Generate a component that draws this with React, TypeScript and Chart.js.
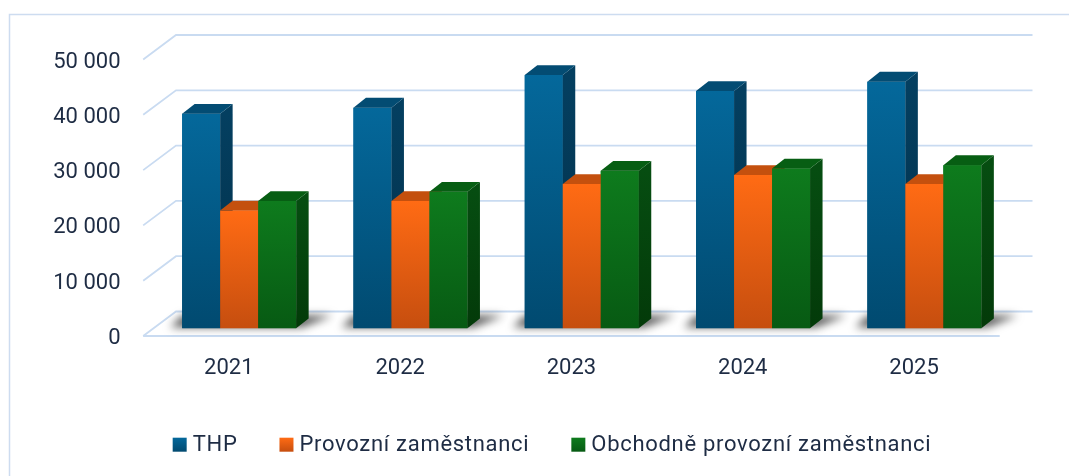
import React, { useEffect, useRef } from 'react';
import { Chart, registerables } from 'chart.js';

Chart.register(...registerables);

// ---- data ----
const CATEGORIES = ['2021', '2022', '2023', '2024', '2025'];
const SERIES_LABELS = ['THP', 'Provozní zaměstnanci', 'Obchodně provozní zaměstnanci'];
const THP = [38800, 39900, 45800, 42900, 44600];
const PROVOZNI = [21300, 23000, 26100, 27700, 26100];
const OBCHODNE = [23000, 24700, 28500, 28900, 29500];
const Y_MIN = 0;
const Y_MAX = 50000;
const Y_STEP = 10000;

// ---- styles ----
const PALETTE = [
  { front: ['#04689b', '#014a70'], side: ['#043f60', '#02304a'], top: '#034c73' },
  { front: ['#ff6b14', '#c64e0f'], side: ['#a8410b', '#8a3508'], top: '#c4500e' },
  { front: ['#0e7b1d', '#075a13'], side: ['#064d11', '#033a09'], top: '#075e13' },
];
const TEXT_COLOR = '#1e2c44';
const GRID_COLOR = '#c9dbf1';
const FONT_FAMILY = 'Roboto';
const FONT_SIZE = 22;

// 3D geometry (pixels)
const DEPTH = { dx: 12.5, dy: -9.8 }; // bar depth
const FRONT = { dx: -10.3, dy: 7.7 }; // floor front edge relative to bar plane
const BACK = { dx: 22.5, dy: -16.8 }; // back wall relative to bar plane

const fmt = (v: number) => String(v).replace(/\B(?=(\d{3})+(?!\d))/g, ' ');

const threeD = {
  id: 'threeD',
  beforeDraw(chart: any) {
    const { ctx } = chart;
    ctx.save();
    ctx.strokeStyle = '#cddcf0';
    ctx.lineWidth = 1.5;
    ctx.beginPath();
    ctx.moveTo(9.5, chart.height);
    ctx.lineTo(9.5, 14.5);
    ctx.lineTo(chart.width, 14.5);
    ctx.stroke();
    ctx.restore();
  },
  beforeDatasetsDraw(chart: any) {
    const { ctx, chartArea } = chart;
    const y = chart.scales.y;
    const { left, right } = chartArea;
    ctx.save();
    ctx.strokeStyle = GRID_COLOR;
    ctx.lineWidth = 1.8;
    for (let v = Y_MIN; v <= Y_MAX; v += Y_STEP) {
      const yp = y.getPixelForValue(v);
      ctx.beginPath();
      ctx.moveTo(left + FRONT.dx, yp + FRONT.dy);
      ctx.lineTo(left + BACK.dx, yp + BACK.dy);
      ctx.lineTo(right + BACK.dx, yp + BACK.dy);
      ctx.stroke();
    }
    const base = y.getPixelForValue(0);
    ctx.beginPath();
    ctx.moveTo(left + FRONT.dx, base + FRONT.dy);
    ctx.lineTo(right + FRONT.dx, base + FRONT.dy);
    ctx.stroke();
    ctx.restore();

    // soft floor shadows under each group (drawn via an offset canvas shadow)
    const m0 = chart.getDatasetMeta(0);
    const mN = chart.getDatasetMeta(chart.data.datasets.length - 1);
    const OFF = 5000;
    ctx.save();
    ctx.shadowColor = 'rgba(0,0,0,0.65)';
    ctx.shadowBlur = 9;
    ctx.shadowOffsetX = OFF;
    ctx.fillStyle = '#000';
    m0.data.forEach((el: any, j: number) => {
      const last = mN.data[j];
      const gl = el.x - el.width / 2;
      const gr = last.x + last.width / 2;
      const b = el.base;
      ctx.beginPath();
      ctx.moveTo(gl - 12 - OFF, b - 1);
      ctx.lineTo(gr + 6 - OFF, b - 1);
      ctx.lineTo(gr + DEPTH.dx + 24 - OFF, b + DEPTH.dy - 3);
      ctx.lineTo(gl + DEPTH.dx - 12 - OFF, b + DEPTH.dy - 3);
      ctx.closePath();
      ctx.fill();
    });
    ctx.restore();
  },
  afterDatasetsDraw(chart: any) {
    const { ctx, chartArea } = chart;
    const n = chart.data.datasets.length;
    for (let i = 0; i < n; i++) {
      const meta = chart.getDatasetMeta(i);
      const pal = PALETTE[i % PALETTE.length];
      ctx.save();
      meta.data.forEach((el: any) => {
        // re-draw front face so that the next series covers the previous side face
        el.draw(ctx, chartArea);
        const xl = el.x - el.width / 2;
        const xr = el.x + el.width / 2;
        const top = Math.min(el.y, el.base);
        const bot = Math.max(el.y, el.base);
        if (![xl, xr, top, bot].every(Number.isFinite)) return;
        const g = ctx.createLinearGradient(0, top, 0, bot);
        g.addColorStop(0, pal.side[0]);
        g.addColorStop(1, pal.side[1]);
        ctx.fillStyle = g;
        ctx.beginPath();
        ctx.moveTo(xr, top);
        ctx.lineTo(xr + DEPTH.dx, top + DEPTH.dy);
        ctx.lineTo(xr + DEPTH.dx, bot + DEPTH.dy);
        ctx.lineTo(xr, bot);
        ctx.closePath();
        ctx.fill();
        ctx.fillStyle = pal.top;
        ctx.beginPath();
        ctx.moveTo(xl, top);
        ctx.lineTo(xr, top);
        ctx.lineTo(xr + DEPTH.dx, top + DEPTH.dy);
        ctx.lineTo(xl + DEPTH.dx, top + DEPTH.dy);
        ctx.closePath();
        ctx.fill();
      });
      ctx.restore();
    }
  },
  afterDraw(chart: any) {
    const { ctx } = chart;
    ctx.save();
    ctx.font = `${FONT_SIZE}px ${FONT_FAMILY}`;
    (ctx as any).letterSpacing = '0.7px';
    ctx.textBaseline = 'middle';
    ctx.textAlign = 'left';
    const box = 14;
    const boxGap = 6;
    const itemGap = 42;
    const cx = 552;
    const cy = 444.7;
    const labels = chart.data.datasets.map((d: any) => d.label);
    const widths = labels.map((l: string) => ctx.measureText(l).width);
    const total = widths.reduce((a: number, w: number) => a + box + boxGap + w, 0) + itemGap * (labels.length - 1);
    let x = cx - total / 2;
    labels.forEach((l: string, i: number) => {
      const pal = PALETTE[i % PALETTE.length];
      const g = ctx.createLinearGradient(0, cy - box / 2, 0, cy + box / 2);
      g.addColorStop(0, pal.front[0]);
      g.addColorStop(1, pal.front[1]);
      ctx.fillStyle = g;
      ctx.fillRect(x, cy - box / 2, box, box);
      ctx.fillStyle = TEXT_COLOR;
      ctx.fillText(l, x + box + boxGap, cy + 1);
      x += box + boxGap + widths[i] + itemGap;
    });
    ctx.restore();
  },
};

function frontGradient(index: number) {
  return (c: any) => {
    const chart = c.chart;
    const pal = PALETTE[index];
    const ys = chart.scales && chart.scales.y;
    if (!ys || c.type !== 'data') return pal.front[0];
    const t = ys.getPixelForValue(c.raw);
    const b = ys.getPixelForValue(0);
    if (!Number.isFinite(t) || !Number.isFinite(b) || t === b) return pal.front[0];
    const g = chart.ctx.createLinearGradient(0, t, 0, b);
    g.addColorStop(0, pal.front[0]);
    g.addColorStop(1, pal.front[1]);
    return g;
  };
}

export default function App() {
  const ref = useRef<HTMLCanvasElement>(null);
  useEffect(() => {
    Chart.defaults.font.family = FONT_FAMILY;
    const series = [THP, PROVOZNI, OBCHODNE];
    const chart = new Chart(ref.current as HTMLCanvasElement, {
      type: 'bar',
      data: {
        labels: CATEGORIES,
        datasets: series.map((data, i) => ({
          label: SERIES_LABELS[i],
          data,
          backgroundColor: frontGradient(i),
          borderWidth: 0,
          categoryPercentage: 0.6655,
          barPercentage: 1,
        })),
      },
      options: {
        responsive: false,
        devicePixelRatio: 1,
        animation: false,
        events: [],
        layout: { padding: { left: 0, right: 59, top: 51.8, bottom: 87.7 } },
        plugins: { legend: { display: false }, tooltip: { enabled: false } },
        scales: {
          x: {
            offset: true,
            grid: { display: false, drawTicks: false, tickLength: 0 },
            border: { display: false },
            ticks: {
              color: TEXT_COLOR,
              font: { size: FONT_SIZE, family: FONT_FAMILY },
              padding: 27,
              labelOffset: FRONT.dx,
              maxRotation: 0,
              autoSkip: false,
            },
            afterFit: (s: any) => {
              s.height = 60;
            },
          },
          y: {
            min: Y_MIN,
            max: Y_MAX,
            grid: { display: false, drawTicks: false, tickLength: 0 },
            border: { display: false },
            ticks: {
              stepSize: Y_STEP,
              color: TEXT_COLOR,
              font: { size: FONT_SIZE, family: FONT_FAMILY },
              padding: 33,
              labelOffset: FRONT.dy + 2.5,
              callback: (v: any) => fmt(Number(v)),
            },
            afterFit: (s: any) => {
              s.width = 153.5;
            },
          },
        },
      },
      plugins: [threeD],
    } as any);
    chart.update();
    return () => chart.destroy();
  }, []);
  return (
    <div style={{ position: 'absolute', left: 0, top: 0, width: 1069, height: 476, background: '#fff' }}>
      <canvas ref={ref} width={1069} height={476} style={{ display: 'block' }} />
    </div>
  );
}
